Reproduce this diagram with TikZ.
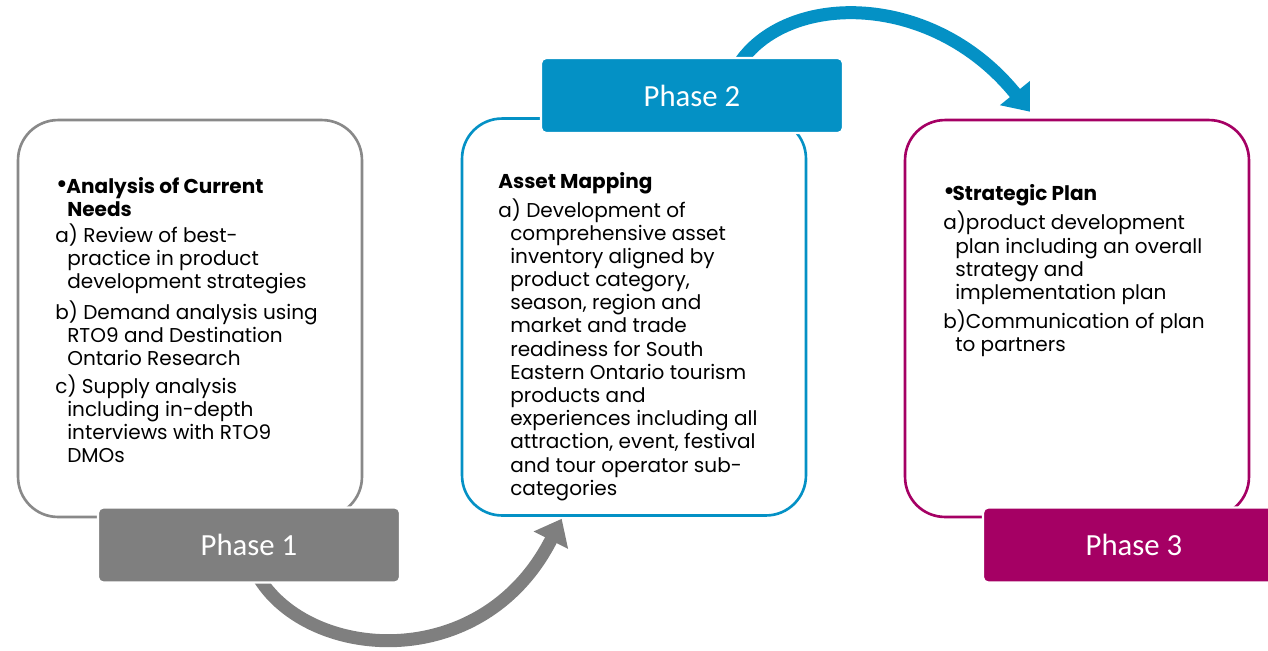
\documentclass[tikz,border=0pt]{standalone}
\usepackage{fontspec}
\setmainfont{Poppins}
\newfontfamily\phasefont{Carlito}
\usetikzlibrary{arrows.meta, backgrounds}
\definecolor{PhGray}{RGB}{127,127,127}
\definecolor{PhLine}{RGB}{137,137,137}
\definecolor{PhBlue}{RGB}{4,145,197}
\definecolor{PhMagenta}{RGB}{165,0,100}
% hanging indent for wrapped lines, and a larger bullet
\newcommand{\ind}{\hspace*{6.8pt}}
\newcommand{\bigdot}{{\fontsize{16}{13}\selectfont\textbullet}}

\begin{document}
\begin{tikzpicture}[x=0.02cm, y=-0.02cm,
    card/.style={rectangle, rounded corners=0.8cm, fill=white, line width=1.5pt,
                 minimum width=6.88cm, minimum height=7.94cm, inner sep=0pt},
    phase/.style={rectangle, rounded corners=3pt, draw=white, line width=1.2pt,
                  minimum width=6.04cm, minimum height=1.5cm, text=white,
                  font=\phasefont\fontsize{17.5}{20}\selectfont},
    body/.style={anchor=north west, align=left, inner sep=0pt,
                 font=\fontsize{11.4}{13.2}\selectfont},
    swoop/.style={line width=0.26cm, -{Triangle[width=0.74cm, length=0.48cm]}}
  ]
  \useasboundingbox (0,0) rectangle (1268,650);
  \clip (0,0) rectangle (1268,650);

  % cards
  \node[card, draw=PhLine]    (box1) at (190, 318.5) {};
  \node[card, draw=PhBlue]    (box2) at (634, 317)   {};
  \node[card, draw=PhMagenta] (box3) at (1077, 318.5) {};

  % phase tabs
  \node[phase, fill=PhGray]    (p1) at (249, 545)  {Phase 1};
  \node[phase, fill=PhBlue]    (p2) at (692, 95.5) {Phase 2};
  \node[phase, fill=PhMagenta] (p3) at (1134, 545) {Phase 3};

  % card texts
  \node[body] (t1) at (55, 177) {%
    \hspace*{0.5pt}\bigdot\hspace{-0.8pt}\textbf{Analysis of Current}\\
    \ind\textbf{Needs}\\[1.5pt]
    a) Review of best-\\
    \ind practice in product\\
    \ind development strategies\\[2.5pt]
    b) Demand analysis using\\
    \ind RTO9 and Destination\\
    \ind Ontario Research\\[2.5pt]
    c) Supply analysis\\
    \ind including in-depth\\
    \ind interviews with RTO9\\
    \ind DMOs};
  \node[body] (t2) at (498, 172) {%
    \textbf{Asset Mapping}\\[1.5pt]
    a) Development of\\
    \ind comprehensive asset\\
    \ind inventory aligned by\\
    \ind product category,\\
    \ind season, region and\\
    \ind market and trade\\
    \ind readiness for South\\
    \ind Eastern Ontario tourism\\
    \ind products and\\
    \ind experiences including all\\
    \ind attraction, event, festival\\
    \ind and tour operator sub-\\
    \ind categories};
  \node[body] (t3) at (943, 184) {%
    \bigdot\hspace{-1.3pt}\textbf{Strategic Plan}\\[2pt]
    a)product development\\
    \ind plan including an overall\\
    \ind strategy and\\
    \ind implementation plan\\[2pt]
    b)Communication of plan\\
    \ind to partners};

  % curved arrows between the phases
  \begin{pgfonlayer}{background}
    \draw[swoop, draw=PhGray]
      ([xshift=0.08cm, yshift=0.34cm]p1.south)
      .. controls (295, 660) and (480, 680) ..
      ([xshift=2.02cm, yshift=-0.04cm]box2.south west);
    \draw[swoop, draw=PhBlue]
      ([xshift=0.88cm, yshift=-0.24cm]p2.north)
      .. controls (780, -8) and (930, -12) ..
      ([xshift=-0.94cm, yshift=0.14cm]box3.north);
  \end{pgfonlayer}
\end{tikzpicture}
\end{document}
